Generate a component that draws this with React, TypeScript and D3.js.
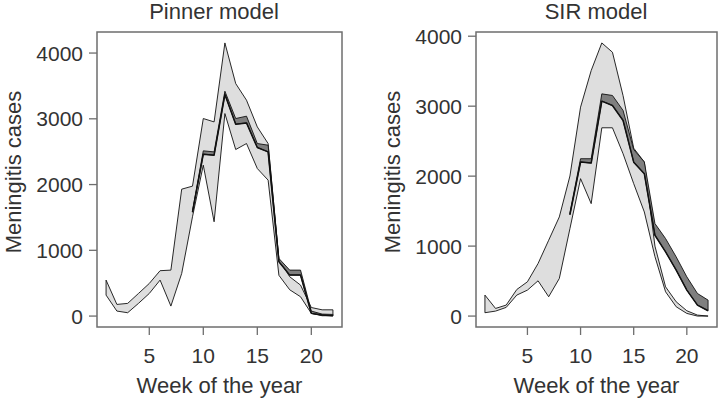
import React, { useRef, useEffect } from 'react';
import * as d3 from 'd3';

// weeks of the year (x categories)
const weeks = [1, 2, 3, 4, 5, 6, 7, 8, 9, 10, 11, 12, 13, 14, 15, 16, 17, 18, 19, 20, 21, 22];
// weeks covered by the fitted (dark) band
const fitWeeks = [9, 10, 11, 12, 13, 14, 15, 16, 17, 18, 19, 20, 21, 22];

const yTicks = [0, 1000, 2000, 3000, 4000];
const xTicks = [5, 10, 15, 20];

// Pinner model
const pinLightLo = [319, 76, 51, 193, 344, 547, 152, 648, 1510, 2295, 1434, 3080, 2533, 2624, 2244, 2067, 620, 400, 294, 41, 5, 5];
const pinLightHi = [547, 177, 193, 344, 496, 690, 699, 1930, 1976, 3004, 2953, 4154, 3536, 3283, 2877, 2624, 861, 598, 471, 130, 95, 95];
const pinDarkLo = [1580, 2462, 2447, 3369, 2918, 2938, 2563, 2497, 826, 623, 623, 41, 15, 5];
const pinDarkHi = [1600, 2513, 2497, 3419, 3004, 3040, 2624, 2599, 876, 699, 699, 76, 30, 25];

// SIR model
const sirLightLo = [48, 71, 124, 300, 371, 504, 276, 537, 1250, 1964, 1607, 2691, 2691, 2320, 1893, 1488, 850, 347, 133, 38, 0, 0];
const sirLightHi = [300, 109, 157, 380, 490, 751, 1084, 1417, 2002, 2986, 3509, 3904, 3771, 3150, 2400, 2202, 1000, 418, 204, 76, 14, 0];
const sirDarkLo = [1450, 2202, 2187, 3072, 3010, 2796, 2200, 2035, 1155, 918, 656, 371, 157, 76];
const sirDarkHi = [1480, 2249, 2249, 3176, 3153, 2939, 2380, 2202, 1322, 1108, 846, 561, 323, 228];

const FONT = '"Liberation Sans", Arial, Helvetica, sans-serif';
const TEXT = '#333';
const AXIS = '#6e6e6e';

const drawPanel = (svg, cfg) => {
  const { left, right, top, bottom, title, titleX, lightLo, lightHi, darkLo, darkHi } = cfg;

  // R style 4% padding on both axes
  const [wMin, wMax] = d3.extent(weeks);
  const xPad = (wMax - wMin) * 0.04;
  const x = d3.scaleLinear().domain([wMin - xPad, wMax + xPad]).range([left, right]);
  const yMax = d3.max(lightHi.concat(darkHi));
  const yPad = yMax * 0.04;
  const y = d3.scaleLinear().domain([-yPad, yMax + yPad]).range([bottom, top]);

  const g = svg.append('g');

  const band = (wk, lo, hi) =>
    d3
      .area()
      .x((d, i) => x(wk[i]))
      .y0((d, i) => y(lo[i]))
      .y1((d) => y(d))(hi);

  // wide light band
  g.append('path')
    .attr('d', band(weeks, lightLo, lightHi))
    .attr('fill', '#dedede')
    .attr('stroke', '#111')
    .attr('stroke-width', 0.9)
    .attr('stroke-linejoin', 'round');

  // narrow dark band
  g.append('path')
    .attr('d', band(fitWeeks, darkLo, darkHi))
    .attr('fill', '#7f7f7f')
    .attr('stroke', '#111')
    .attr('stroke-width', 0.9)
    .attr('stroke-linejoin', 'round');

  // heavier lower edge of the dark band
  const line = d3
    .line()
    .x((d, i) => x(fitWeeks[i]))
    .y((d) => y(d));
  g.append('path')
    .attr('d', line(darkLo))
    .attr('fill', 'none')
    .attr('stroke', '#111')
    .attr('stroke-width', 1.5)
    .attr('stroke-linejoin', 'round');

  // box
  g.append('rect')
    .attr('x', left)
    .attr('y', top)
    .attr('width', right - left)
    .attr('height', bottom - top)
    .attr('fill', 'none')
    .attr('stroke', AXIS)
    .attr('stroke-width', 1.5);

  // y axis
  yTicks.forEach((t) => {
    g.append('line')
      .attr('x1', left - 8)
      .attr('x2', left)
      .attr('y1', y(t))
      .attr('y2', y(t))
      .attr('stroke', AXIS)
      .attr('stroke-width', 1.3);
    g.append('text')
      .attr('x', left - 14)
      .attr('y', y(t))
      .attr('dy', '0.36em')
      .attr('text-anchor', 'end')
      .attr('font-size', 21)
      .attr('font-family', FONT)
      .attr('fill', TEXT)
      .text(t);
  });

  // x axis
  xTicks.forEach((t) => {
    g.append('line')
      .attr('x1', x(t))
      .attr('x2', x(t))
      .attr('y1', bottom)
      .attr('y2', bottom + 8)
      .attr('stroke', AXIS)
      .attr('stroke-width', 1.3);
    g.append('text')
      .attr('x', x(t))
      .attr('y', bottom + 36)
      .attr('text-anchor', 'middle')
      .attr('font-size', 21)
      .attr('font-family', FONT)
      .attr('fill', TEXT)
      .text(t);
  });

  // labels
  g.append('text')
    .attr('x', titleX)
    .attr('y', 19)
    .attr('text-anchor', 'middle')
    .attr('font-size', 22)
    .attr('font-family', FONT)
    .attr('fill', TEXT)
    .text(title);

  g.append('text')
    .attr('x', (left + right) / 2)
    .attr('y', bottom + 66)
    .attr('text-anchor', 'middle')
    .attr('font-size', 22)
    .attr('font-family', FONT)
    .attr('fill', TEXT)
    .text('Week of the year');

  g.append('text')
    .attr('transform', `translate(${left - 76}, 172) rotate(-90)`)
    .attr('text-anchor', 'middle')
    .attr('font-size', 22)
    .attr('font-family', FONT)
    .attr('fill', TEXT)
    .text('Meningitis cases');
};

const App = () => {
  const ref = useRef(null);

  useEffect(() => {
    const svg = d3.select(ref.current);
    svg.selectAll('*').remove();

    drawPanel(svg, {
      left: 97,
      right: 342,
      top: 32,
      bottom: 327,
      title: 'Pinner model',
      titleX: 214,
      lightLo: pinLightLo,
      lightHi: pinLightHi,
      darkLo: pinDarkLo,
      darkHi: pinDarkHi,
    });

    drawPanel(svg, {
      left: 476,
      right: 717,
      top: 32,
      bottom: 327,
      title: 'SIR model',
      titleX: 596,
      lightLo: sirLightLo,
      lightHi: sirLightHi,
      darkLo: sirDarkLo,
      darkHi: sirDarkHi,
    });
  }, []);

  return (
    <svg
      ref={ref}
      width={720}
      height={402}
      style={{ position: 'absolute', left: 0, top: 0, background: '#fff' }}
    />
  );
};

export default App;
